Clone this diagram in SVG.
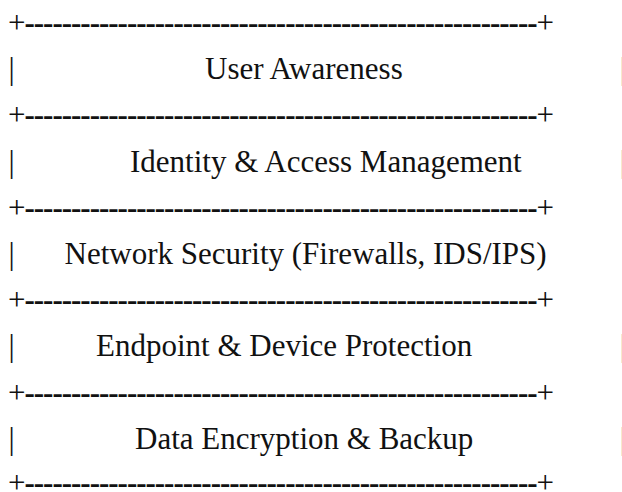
<svg xmlns="http://www.w3.org/2000/svg" width="622" height="492" viewBox="0 0 622 492">
<style>
text{font-family:"Liberation Serif","Times New Roman",serif;font-size:31px;fill:#111}
.d{font-weight:bold}
.edge{fill:#aaa}
</style>
<rect width="622" height="492" fill="#fff"/>
<g id="borders">
<text x="8" y="33" textLength="546" lengthAdjust="spacing">+<tspan class="d">-------------------------------------------------------</tspan>+</text>
<text x="8" y="125.4" textLength="546" lengthAdjust="spacing">+<tspan class="d">-------------------------------------------------------</tspan>+</text>
<text x="8" y="217.8" textLength="546" lengthAdjust="spacing">+<tspan class="d">-------------------------------------------------------</tspan>+</text>
<text x="8" y="310.2" textLength="546" lengthAdjust="spacing">+<tspan class="d">-------------------------------------------------------</tspan>+</text>
<text x="8" y="402.6" textLength="546" lengthAdjust="spacing">+<tspan class="d">-------------------------------------------------------</tspan>+</text>
<text x="8" y="493" textLength="546" lengthAdjust="spacing">+<tspan class="d">-------------------------------------------------------</tspan>+</text>
</g>
<g id="layer-user-awareness">
<text x="8.5" y="79.2">|</text>
<text x="205" y="79.2">User Awareness</text>
<text class="edge" x="619.6" y="79.2">|</text>
</g>
<g id="layer-identity-access">
<text x="8.5" y="171.6">|</text>
<text x="130" y="171.6">Identity &amp; Access Management</text>
<text class="edge" x="619.6" y="171.6">|</text>
</g>
<g id="layer-network-security">
<text x="8.5" y="264">|</text>
<text x="64.5" y="264">Network Security (Firewalls, IDS/IPS)</text>
</g>
<g id="layer-endpoint">
<text x="8.5" y="356.4">|</text>
<text x="96" y="356.4">Endpoint &amp; Device Protection</text>
<text class="edge" x="619.6" y="356.4">|</text>
</g>
<g id="layer-data">
<text x="8.5" y="448.8">|</text>
<text x="135" y="448.8">Data Encryption &amp; Backup</text>
<text class="edge" x="619.6" y="448.8">|</text>
</g>
</svg>
